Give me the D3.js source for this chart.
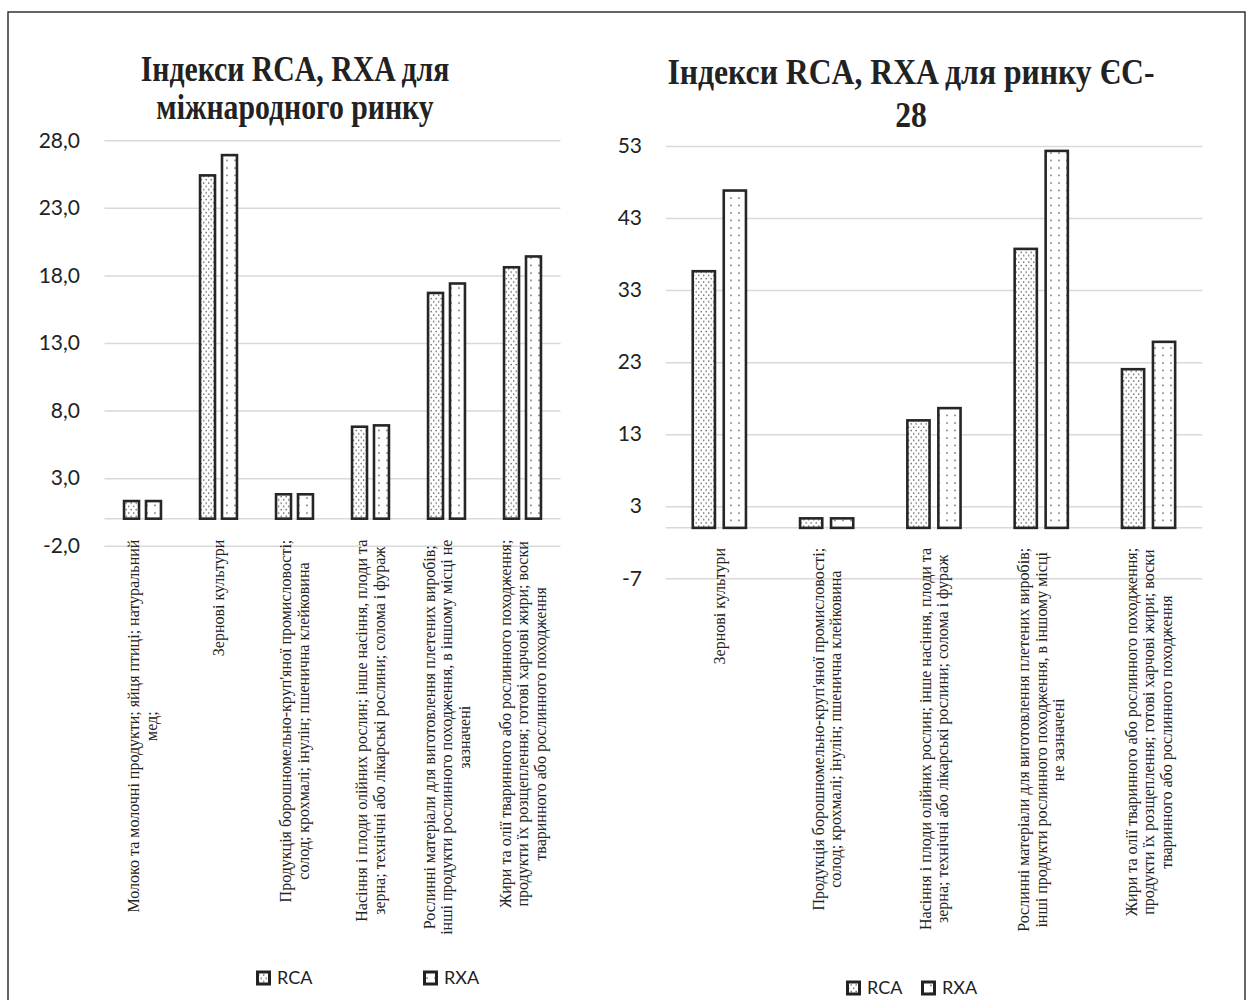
<!DOCTYPE html>
<html><head><meta charset="utf-8">
<script src="https://cdn.jsdelivr.net/npm/d3@7"></script>
<style>
html,body{margin:0;padding:0;background:#fff;}
svg{display:block;}
</style></head>
<body>
<svg id="chart" width="1249" height="1000"></svg>
<script>
// ---------- DATA ----------
const seriesNames = ["RCA", "RXA"];

const leftTitle = ["Індекси RCA, RXA для", "міжнародного ринку"];
const leftCategories = [
  ["Молоко та молочні продукти; яйця птиці; натуральний", "мед;"],
  ["Зернові культури"],
  ["Продукція борошномельно-круп'яної промисловості;", "солод; крохмалі; інулін; пшенична клейковина"],
  ["Насіння і плоди олійних рослин; інше насіння, плоди та", "зерна; технічні або лікарські рослини; солома і фураж"],
  ["Рослинні матеріали для виготовлення плетених виробів;", "інші продукти рослинного походження, в іншому місці не", "зазначені"],
  ["Жири та олії тваринного або рослинного походження;", "продукти їх розщеплення; готові харчові жири; воски", "тваринного або рослинного походження"]
];
const leftRCA = [1.4, 25.5, 1.9, 6.9, 16.8, 18.7];
const leftRXA = [1.4, 27.0, 1.9, 7.0, 17.5, 19.5];
const leftTicks = [-2, 3, 8, 13, 18, 23, 28];

const rightTitle = ["Індекси RCA, RXA для ринку ЄС-", "28"];
const rightCategories = [
  ["Зернові культури"],
  ["Продукція борошномельно-круп'яної промисловості;", "солод; крохмалі; інулін; пшенична клейковина"],
  ["Насіння і плоди олійних рослин; інше насіння, плоди та", "зерна; технічні або лікарські рослини; солома і фураж"],
  ["Рослинні матеріали для виготовлення плетених виробів;", "інші продукти рослинного походження, в іншому місці", "не зазначені"],
  ["Жири та олії тваринного або рослинного походження;", "продукти їх розщеплення; готові харчові жири; воски", "тваринного або рослинного походження"]
];
const rightRCA = [35.8, 1.5, 15.1, 38.9, 22.2];
const rightRXA = [47.0, 1.5, 16.8, 52.5, 26.0];
const rightTicks = [-7, 3, 13, 23, 33, 43, 53];

// ---------- DRAWING ----------
const svg = d3.select("#chart");
const defs = svg.append("defs");

// dotted patterns
const pRCA = defs.append("pattern").attr("id", "patRCA").attr("patternUnits", "userSpaceOnUse")
  .attr("width", 5).attr("height", 6.6);
pRCA.append("rect").attr("width", 5).attr("height", 6.6).attr("fill", "#fff");
pRCA.append("circle").attr("cx", 1.2).attr("cy", 1.5).attr("r", 0.8).attr("fill", "#666");
pRCA.append("circle").attr("cx", 3.7).attr("cy", 4.8).attr("r", 0.8).attr("fill", "#666");

const pRXA = defs.append("pattern").attr("id", "patRXA").attr("patternUnits", "userSpaceOnUse")
  .attr("width", 8).attr("height", 7.5);
pRXA.append("rect").attr("width", 8).attr("height", 7.5).attr("fill", "#fff");
pRXA.append("circle").attr("cx", 3).attr("cy", 3).attr("r", 0.85).attr("fill", "#666");

const fills = {RCA: "url(#patRCA)", RXA: "url(#patRXA)"};

// outer frame
svg.append("rect").attr("x", 8).attr("y", 12).attr("width", 1237).attr("height", 1000)
  .attr("fill", "none").attr("stroke", "#333").attr("stroke-width", 1.5);

function drawChart(cfg) {
  const g = svg.append("g");
  const x = d3.scaleBand().domain(d3.range(cfg.categories.length)).range(cfg.xRange).padding(0);
  const y = d3.scaleLinear().domain(cfg.yDomain).range(cfg.yRange);
  const bw = x.bandwidth();
  const xs = d3.scaleBand().domain(seriesNames).range([-0.26 * bw, 0.26 * bw]).paddingInner(0.2);

  // title
  const t = g.append("g");
  cfg.title.forEach((line, i) => {
    const tx = t.append("text").attr("x", cfg.titleX).attr("y", cfg.titleY[i])
      .attr("text-anchor", "middle")
      .attr("font-family", "'Liberation Serif', 'Times New Roman', serif")
      .attr("font-weight", "bold").attr("font-size", cfg.titleSize).attr("fill", "#222")
      .text(line);
    const w = tx.node().getComputedTextLength();
    tx.attr("textLength", w * cfg.titleCondense).attr("lengthAdjust", "spacingAndGlyphs");
  });

  // gridlines
  const yAxis = d3.axisLeft(y).tickValues(cfg.ticks).tickFormat(cfg.fmt)
    .tickSize(-(cfg.xRange[1] - cfg.xRange[0])).tickPadding(24);
  const ax = g.append("g").attr("transform", `translate(${cfg.xRange[0]},0)`).call(yAxis);
  ax.select(".domain").remove();
  ax.selectAll(".tick line").attr("stroke", "#d9d9d9").attr("stroke-width", 1.5);
  ax.selectAll(".tick text").attr("font-family", "Lato, 'Open Sans', sans-serif")
    .attr("font-size", 21).attr("fill", "#222").attr("x", cfg.tickTextX - cfg.xRange[0]);

  // zero line
  g.append("line").attr("x1", cfg.xRange[0]).attr("x2", cfg.xRange[1])
    .attr("y1", y(0)).attr("y2", y(0)).attr("stroke", "#d9d9d9").attr("stroke-width", 1.5);

  // bars
  const sw = 2.6;
  const data = [];
  cfg.categories.forEach((c, i) => {
    data.push({i, s: "RCA", v: cfg.rca[i]});
    data.push({i, s: "RXA", v: cfg.rxa[i]});
  });
  g.selectAll("rect.bar").data(data).join("rect").attr("class", "bar")
    .attr("x", d => x(d.i) + bw / 2 + xs(d.s) + sw / 2)
    .attr("width", xs.bandwidth() - sw)
    .attr("y", d => y(Math.max(0, d.v)) + sw / 2)
    .attr("height", d => Math.abs(y(d.v) - y(0)) - sw / 2)
    .attr("fill", d => fills[d.s]).attr("stroke", "#262626").attr("stroke-width", sw);

  // category labels
  const lh = 17.5;
  cfg.categories.forEach((lines, i) => {
    const cx = x(i) + bw / 2;
    const lg = g.append("g").attr("transform", `translate(${cx},${y(0) + cfg.labelGap}) rotate(-90)`);
    const texts = lines.map((line, k) => lg.append("text")
      .attr("text-anchor", "middle")
      .attr("font-family", "'Liberation Serif', 'Times New Roman', serif")
      .attr("font-size", 16).attr("fill", "#222")
      .attr("y", (k - (lines.length - 1) / 2) * lh).attr("dy", "0.35em")
      .text(line));
    const L = d3.max(texts, tx => tx.node().getComputedTextLength());
    texts.forEach(tx => tx.attr("x", -L / 2));
  });

  // legend
  cfg.legend.forEach((lg, k) => {
    const s = seriesNames[k];
    g.append("rect").attr("x", lg.x + 1.5).attr("y", cfg.legendY - 6).attr("width", 12).attr("height", 12)
      .attr("fill", fills[s]).attr("stroke", "#222").attr("stroke-width", 3);
    g.append("text").attr("x", lg.x + 21).attr("y", cfg.legendY).attr("dy", "0.35em")
      .attr("font-family", "Lato, 'Open Sans', sans-serif").attr("font-size", 18).attr("fill", "#222")
      .text(s);
  });
}

drawChart({
  categories: leftCategories, rca: leftRCA, rxa: leftRXA, ticks: leftTicks,
  fmt: d => d3.format(".1f")(d).replace(".", ",").replace("\u2212", "-"),
  xRange: [104.5, 560.5], yDomain: [-2, 28], yRange: [545.7, 140.3],
  tickTextX: 80, labelGap: 21,
  title: leftTitle, titleX: 295, titleY: [81, 119], titleSize: 35, titleCondense: 0.85,
  legend: [{x: 256}, {x: 423}], legendY: 978
});

drawChart({
  categories: rightCategories, rca: rightRCA, rxa: rightRXA, ticks: rightTicks,
  fmt: d => String(d),
  xRange: [665.7, 1202.2], yDomain: [-7, 53], yRange: [578.3, 146],
  tickTextX: 642, labelGap: 20,
  title: rightTitle, titleX: 911, titleY: [84, 127], titleSize: 36, titleCondense: 0.88,
  legend: [{x: 846}, {x: 921}], legendY: 988
});
</script>
</body></html>
